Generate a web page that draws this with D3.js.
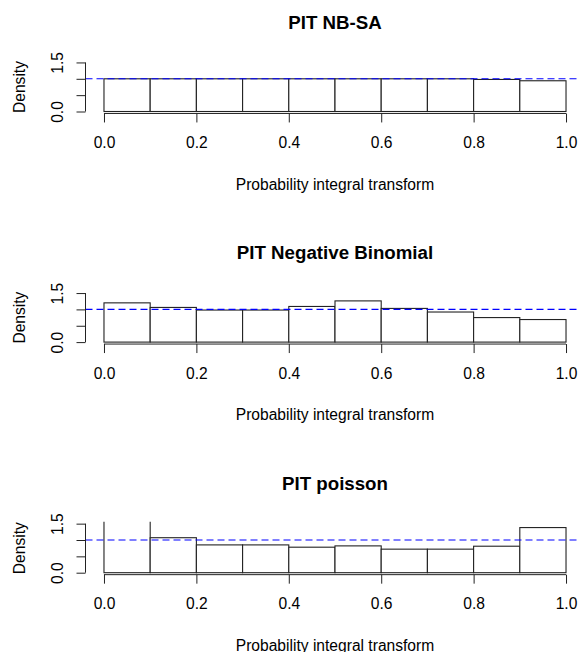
<!DOCTYPE html>
<html>
<head>
<meta charset="utf-8">
<script src="https://cdn.jsdelivr.net/npm/d3@7"></script>
<style>
  body { margin: 0; background: #fff; }
  svg text { font-family: "Liberation Sans", Arial, sans-serif; fill: #000; }
</style>
</head>
<body>
<script>
// bin edges of the histograms
const binEdges = [0, 0.1, 0.2, 0.3, 0.4, 0.5, 0.6, 0.7, 0.8, 0.9, 1.0];

// densities per bin
const densNBSA    = [1.0, 1.0, 1.0, 1.0, 1.0, 1.0, 1.0, 1.0, 0.98, 0.94];
const densNegBin  = [1.20, 1.06, 0.98, 0.98, 1.09, 1.26, 1.03, 0.92, 0.75, 0.69];
const densPoisson = [2.4, 1.07, 0.85, 0.85, 0.78, 0.82, 0.72, 0.72, 0.81, 1.38];

const titles = ["PIT NB-SA", "PIT Negative Binomial", "PIT poisson"];
const xTicks = [0, 0.2, 0.4, 0.6, 0.8, 1.0];
const xTickLabels = ["0.0", "0.2", "0.4", "0.6", "0.8", "1.0"];
const yTicks = [0, 0.5, 1.0, 1.5];
const yTickLabels = ["0.0", "", "", "1.5"];
const refLevel = 1;

const panels = [densNBSA, densNegBin, densPoisson];

const width = 579, height = 652;
const svg = d3.select("body").append("svg")
    .attr("width", width)
    .attr("height", height);

const xscale = d3.scaleLinear().domain([-0.04, 1.04]).range([85.5, 584.5]);

panels.forEach((dens, i) => {
    const zero = 111.5 + i * 230.6;   // pixel of density 0
    const unit = 32.7;                // pixels per 1.0 density
    const yscale = d3.scaleLinear()
        .domain([-0.06, 1.56])
        .range([zero + 0.06 * unit, zero - 1.56 * unit]);

    const g = svg.append("g");

    g.append("clipPath").attr("id", "clip" + i)
      .append("rect")
        .attr("x", xscale(-0.04)).attr("y", yscale(1.56))
        .attr("width", xscale(1.04) - xscale(-0.04))
        .attr("height", yscale(-0.06) - yscale(1.56));

    const bars = dens.map((d, k) => ({x0: binEdges[k], x1: binEdges[k + 1], y: d}));

    g.append("g").attr("clip-path", "url(#clip" + i + ")")
      .selectAll("rect").data(bars).join("rect")
        .attr("x", d => xscale(d.x0))
        .attr("y", d => yscale(d.y))
        .attr("width", d => xscale(d.x1) - xscale(d.x0))
        .attr("height", d => yscale(0) - yscale(d.y))
        .attr("fill", "#fff")
        .attr("stroke", "#222")
        .attr("stroke-width", 1.1);

    // reference line
    g.append("line")
        .attr("x1", xscale(-0.04)).attr("x2", xscale(1.04))
        .attr("y1", yscale(refLevel)).attr("y2", yscale(refLevel))
        .attr("stroke", "blue")
        .attr("stroke-width", 1.1)
        .attr("stroke-dasharray", "7,4");

    // x axis
    const xa = g.append("g")
        .attr("transform", "translate(0," + yscale(-0.06) + ")")
        .call(d3.axisBottom(xscale).tickValues(xTicks)
            .tickFormat((d, k) => xTickLabels[k]).tickSize(9).tickSizeOuter(0));
    xa.select(".domain").remove();
    xa.append("line")
        .attr("x1", xscale(xTicks[0])).attr("x2", xscale(xTicks[xTicks.length - 1]))
        .attr("stroke", "#222");
    xa.selectAll(".tick line").attr("stroke", "#222");
    xa.selectAll(".tick text")
        .attr("y", 34.5).attr("dy", null)
        .attr("font-size", 15.6)
        .attr("font-family", "Liberation Sans, Arial, sans-serif");

    // y axis
    const ya = g.append("g")
        .attr("transform", "translate(" + xscale(-0.04) + ",0)")
        .call(d3.axisLeft(yscale).tickValues(yTicks)
            .tickFormat((d, k) => yTickLabels[k]).tickSize(9).tickSizeOuter(0));
    ya.select(".domain").remove();
    ya.append("line")
        .attr("y1", yscale(yTicks[0])).attr("y2", yscale(yTicks[yTicks.length - 1]))
        .attr("stroke", "#222");
    ya.selectAll(".tick line").attr("stroke", "#222");
    ya.selectAll(".tick text")
        .attr("transform", "rotate(-90)")
        .attr("text-anchor", "middle")
        .attr("x", 0).attr("y", -23).attr("dy", null)
        .attr("font-size", 15.6)
        .attr("font-family", "Liberation Sans, Arial, sans-serif");

    // titles
    g.append("text")
        .attr("x", xscale(0.5))
        .attr("y", zero - 83)
        .attr("text-anchor", "middle")
        .attr("font-size", 18.7)
        .attr("font-weight", "bold")
        .text(titles[i]);

    g.append("text")
        .attr("x", xscale(0.5))
        .attr("y", zero + 78)
        .attr("text-anchor", "middle")
        .attr("font-size", 15.6)
        .text("Probability integral transform");

    g.append("text")
        .attr("transform", "translate(25," + (zero - 24.5) + ") rotate(-90)")
        .attr("text-anchor", "middle")
        .attr("font-size", 15.6)
        .text("Density");
});
</script>
</body>
</html>
